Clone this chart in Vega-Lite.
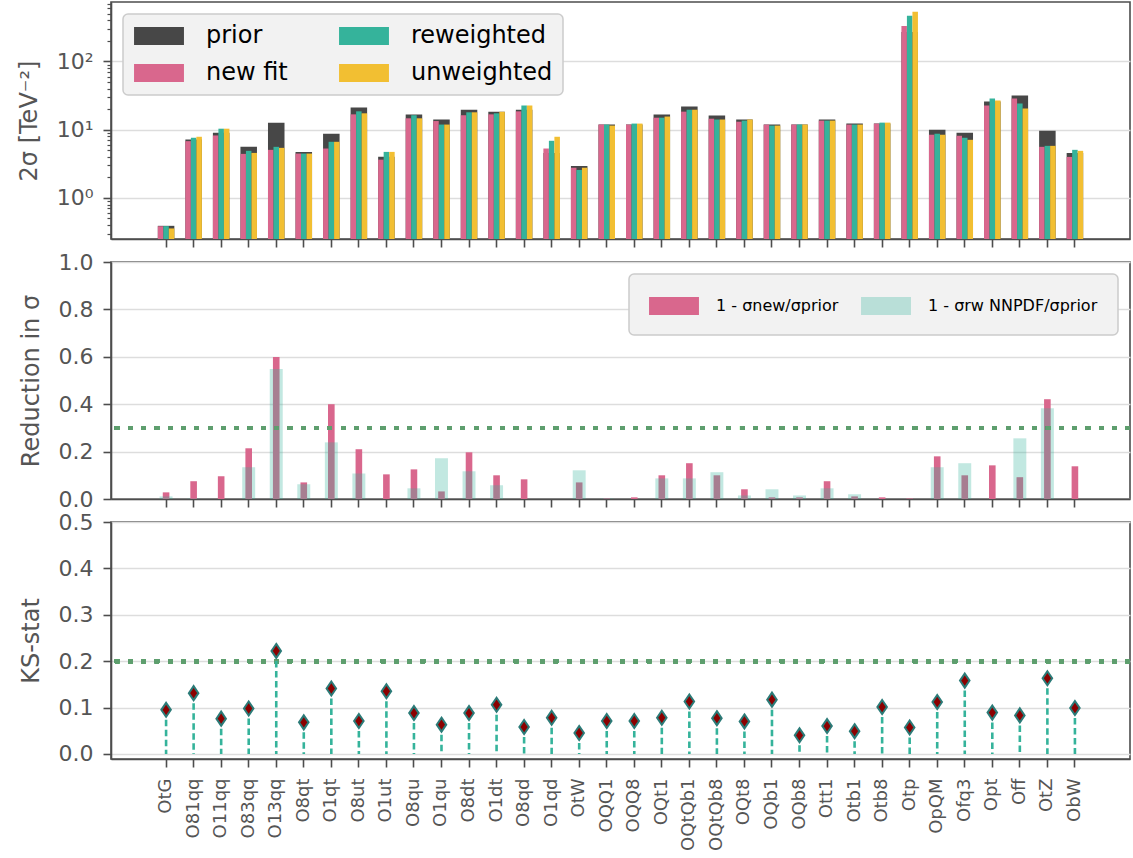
{
  "$schema": "https://vega.github.io/schema/vega-lite/v6.json",
  "autosize": {"type": "pad"},
  "padding": {"left": 16, "top": 1, "right": 1, "bottom": 0},
  "background": "white",
  "config": {
    "font": "DejaVu Sans",
    "view": {"stroke": "#4d4d4d", "strokeWidth": 1.6},
    "axis": {
      "labelFont": "DejaVu Sans", "titleFont": "DejaVu Sans",
      "labelColor": "#555555", "titleColor": "#555555",
      "labelFontSize": 22, "titleFontSize": 24, "titleFontWeight": "normal",
      "domainColor": "#4d4d4d", "domainWidth": 1.6,
      "tickColor": "#4d4d4d", "tickWidth": 1.6, "tickSize": 8,
      "labelPadding": 10, "titlePadding": 15,
      "gridColor": "#dddddd", "gridWidth": 1.5
    },
    "legend": {
      "labelFont": "DejaVu Sans", "labelColor": "#000000",
      "fillColor": "#f2f2f2", "strokeColor": "#cccccc", "strokeWidth": 1.5,
      "cornerRadius": 5, "padding": 10, "title": null, "labelLimit": 400
    }
  },
  "datasets": {
    "d": [
      {"op": "OtG", "prior": 0.39, "new fit": 0.386, "reweighted": 0.386, "unweighted": 0.357, "rnew": 0.028, "rrw": 0.011, "ks": 0.095},
      {"op": "O81qq", "prior": 7.19, "new fit": 6.8, "reweighted": 7.62, "unweighted": 7.88, "rnew": 0.075, "rrw": 0.002, "ks": 0.131},
      {"op": "O11qq", "prior": 9.03, "new fit": 8.24, "reweighted": 10.35, "unweighted": 10.35, "rnew": 0.096, "rrw": 0.0, "ks": 0.076},
      {"op": "O83qq", "prior": 5.61, "new fit": 4.42, "reweighted": 4.9, "unweighted": 4.57, "rnew": 0.214, "rrw": 0.134, "ks": 0.098},
      {"op": "O13qq", "prior": 12.7, "new fit": 5.07, "reweighted": 5.61, "unweighted": 5.42, "rnew": 0.599, "rrw": 0.548, "ks": 0.222},
      {"op": "O8qt", "prior": 4.73, "new fit": 4.47, "reweighted": 4.47, "unweighted": 4.47, "rnew": 0.07, "rrw": 0.062, "ks": 0.068},
      {"op": "O1qt", "prior": 8.73, "new fit": 5.3, "reweighted": 6.65, "unweighted": 6.65, "rnew": 0.4, "rrw": 0.239, "ks": 0.141},
      {"op": "O8ut", "prior": 21.1, "new fit": 16.8, "reweighted": 18.6, "unweighted": 17.4, "rnew": 0.21, "rrw": 0.108, "ks": 0.071},
      {"op": "O1ut", "prior": 4.03, "new fit": 3.64, "reweighted": 4.73, "unweighted": 4.73, "rnew": 0.104, "rrw": 0.0, "ks": 0.135},
      {"op": "O8qu", "prior": 16.7, "new fit": 14.7, "reweighted": 16.3, "unweighted": 14.7, "rnew": 0.125, "rrw": 0.045, "ks": 0.088},
      {"op": "O1qu", "prior": 14.1, "new fit": 13.4, "reweighted": 11.9, "unweighted": 11.9, "rnew": 0.032, "rrw": 0.172, "ks": 0.063},
      {"op": "O8dt", "prior": 19.7, "new fit": 16.3, "reweighted": 18.0, "unweighted": 18.0, "rnew": 0.197, "rrw": 0.117, "ks": 0.088},
      {"op": "O1dt", "prior": 18.4, "new fit": 16.8, "reweighted": 17.4, "unweighted": 18.3, "rnew": 0.1, "rrw": 0.058, "ks": 0.106},
      {"op": "O8qd", "prior": 19.7, "new fit": 18.6, "reweighted": 22.6, "unweighted": 22.6, "rnew": 0.083, "rrw": 0.0, "ks": 0.058},
      {"op": "O1qd", "prior": 4.57, "new fit": 5.3, "reweighted": 6.88, "unweighted": 7.88, "rnew": 0.0, "rrw": 0.0, "ks": 0.078},
      {"op": "OtW", "prior": 2.94, "new fit": 2.77, "reweighted": 2.57, "unweighted": 2.77, "rnew": 0.07, "rrw": 0.121, "ks": 0.045},
      {"op": "OQQ1", "prior": 11.9, "new fit": 11.9, "reweighted": 11.9, "unweighted": 11.5, "rnew": 0.002, "rrw": 0.002, "ks": 0.071},
      {"op": "OQQ8", "prior": 11.9, "new fit": 11.9, "reweighted": 12.3, "unweighted": 12.3, "rnew": 0.007, "rrw": 0.0, "ks": 0.071},
      {"op": "OQt1", "prior": 16.7, "new fit": 15.0, "reweighted": 15.0, "unweighted": 15.6, "rnew": 0.1, "rrw": 0.087, "ks": 0.078},
      {"op": "OQtQb1", "prior": 21.9, "new fit": 18.4, "reweighted": 19.7, "unweighted": 19.7, "rnew": 0.151, "rrw": 0.087, "ks": 0.113},
      {"op": "OQtQb8", "prior": 16.1, "new fit": 14.5, "reweighted": 14.1, "unweighted": 14.1, "rnew": 0.1, "rrw": 0.113, "ks": 0.077},
      {"op": "OQt8", "prior": 14.1, "new fit": 13.1, "reweighted": 13.6, "unweighted": 14.1, "rnew": 0.041, "rrw": 0.015, "ks": 0.07},
      {"op": "OQb1", "prior": 11.9, "new fit": 11.9, "reweighted": 11.5, "unweighted": 11.5, "rnew": 0.007, "rrw": 0.041, "ks": 0.117},
      {"op": "OQb8", "prior": 11.9, "new fit": 11.9, "reweighted": 11.9, "unweighted": 11.9, "rnew": 0.007, "rrw": 0.015, "ks": 0.04},
      {"op": "Ott1", "prior": 14.1, "new fit": 13.6, "reweighted": 13.6, "unweighted": 13.6, "rnew": 0.075, "rrw": 0.045, "ks": 0.06},
      {"op": "Otb1", "prior": 12.3, "new fit": 11.9, "reweighted": 11.9, "unweighted": 11.9, "rnew": 0.011, "rrw": 0.02, "ks": 0.049},
      {"op": "Otb8", "prior": 12.3, "new fit": 12.3, "reweighted": 12.7, "unweighted": 12.7, "rnew": 0.007, "rrw": 0.0, "ks": 0.101},
      {"op": "Otp", "prior": 271, "new fit": 332, "reweighted": 467, "unweighted": 535, "rnew": 0.002, "rrw": 0.0, "ks": 0.057},
      {"op": "OpQM", "prior": 10.0, "new fit": 8.44, "reweighted": 8.73, "unweighted": 8.44, "rnew": 0.18, "rrw": 0.134, "ks": 0.112},
      {"op": "Ofq3", "prior": 9.03, "new fit": 8.15, "reweighted": 7.62, "unweighted": 7.11, "rnew": 0.1, "rrw": 0.151, "ks": 0.158},
      {"op": "Opt", "prior": 25.9, "new fit": 22.6, "reweighted": 28.7, "unweighted": 26.8, "rnew": 0.142, "rrw": 0.0, "ks": 0.089},
      {"op": "Off", "prior": 31.8, "new fit": 28.7, "reweighted": 24.2, "unweighted": 20.4, "rnew": 0.092, "rrw": 0.256, "ks": 0.083},
      {"op": "OtZ", "prior": 9.67, "new fit": 5.61, "reweighted": 5.8, "unweighted": 5.8, "rnew": 0.421, "rrw": 0.383, "ks": 0.163},
      {"op": "ObW", "prior": 4.57, "new fit": 3.99, "reweighted": 5.07, "unweighted": 4.9, "rnew": 0.138, "rrw": 0.0, "ks": 0.099}
    ]
  },
  "spacing": 23,
  "bounds": "flush",
  "resolve": {"scale": {"color": "independent"}, "legend": {"color": "independent"}},
  "vconcat": [
    {
      "width": 1019, "height": 237,
      "data": {"name": "d"},
      "layer": [
        {
          "transform": [{"fold": ["prior"], "as": ["series", "val"]}],
          "mark": {"type": "bar", "width": {"band": 0.6}},
          "encoding": {
            "x": {"field": "op", "type": "nominal",
                  "scale": {"domain": [" ", "OtG", "O81qq", "O11qq", "O83qq", "O13qq", "O8qt", "O1qt", "O8ut", "O1ut", "O8qu", "O1qu", "O8dt", "O1dt", "O8qd", "O1qd", "OtW", "OQQ1", "OQQ8", "OQt1", "OQtQb1", "OQtQb8", "OQt8", "OQb1", "OQb8", "Ott1", "Otb1", "Otb8", "Otp", "OpQM", "Ofq3", "Opt", "Off", "OtZ", "ObW", "  "],
                            "paddingInner": 0, "paddingOuter": 0.5},
                  "axis": {"values": ["OtG", "O81qq", "O11qq", "O83qq", "O13qq", "O8qt", "O1qt", "O8ut", "O1ut", "O8qu", "O1qu", "O8dt", "O1dt", "O8qd", "O1qd", "OtW", "OQQ1", "OQQ8", "OQt1", "OQtQb1", "OQtQb8", "OQt8", "OQb1", "OQb8", "Ott1", "Otb1", "Otb8", "Otp", "OpQM", "Ofq3", "Opt", "Off", "OtZ", "ObW"],
                           "labels": false, "title": null, "grid": false}},
            "y": {"field": "val", "type": "quantitative", "stack": null,
                  "scale": {"type": "log", "domain": [0.25, 745], "nice": false},
                  "axis": {"values": [1, 10, 100], "grid": true, "title": "2σ [TeV⁻²]",
                           "labelExpr": "datum.value == 1 ? '10⁰' : (datum.value == 10 ? '10¹' : '10²')"}},
            "y2": {"datum": 0.25},
            "color": {"field": "series", "type": "nominal",
                      "scale": {"domain": ["prior", "new fit", "reweighted", "unweighted"],
                                "range": ["#474747", "#d9678d", "#35b39b", "#f2bf32"]},
                      "legend": {"orient": "top-left", "offset": 12, "columns": 2,
                                 "symbolType": "M-2.08,-0.75H2.08V0.75H-2.08Z", "symbolSize": 576,
                                 "symbolStrokeWidth": 0, "symbolOpacity": 1,
                                 "labelFontSize": 24, "symbolOffset": 14, "labelOffset": 35,
                                 "rowPadding": 13, "columnPadding": 50}}
          }
        },
        {
          "transform": [{"fold": ["new fit", "reweighted", "unweighted"], "as": ["series", "val"]}],
          "mark": {"type": "bar"},
          "encoding": {
            "x": {"field": "op", "type": "nominal"},
            "xOffset": {"field": "series", "type": "nominal", "sort": ["new fit", "reweighted", "unweighted"],
                        "scale": {"paddingInner": 0, "paddingOuter": 1}},
            "y": {"field": "val", "type": "quantitative", "stack": null,
                  "axis": {"orient": "left", "values": [0.3, 0.4, 0.5, 0.6, 0.7, 0.8, 0.9, 2, 3, 4, 5, 6, 7, 8, 9, 20, 30, 40, 50, 60, 70, 80, 90, 200, 300, 400, 500, 600, 700],
                           "labels": false, "grid": false, "domain": false, "title": null, "tickSize": 4, "tickWidth": 1.2}},
            "y2": {"datum": 0.25},
            "color": {"field": "series", "type": "nominal"}
          }
        }
      ],
      "resolve": {"axis": {"y": "independent"}}
    },
    {
      "width": 1019, "height": 237,
      "data": {"name": "d"},
      "layer": [
        {
          "transform": [{"fold": ["rnew"], "as": ["k", "v"]}],
          "mark": {"type": "bar", "width": {"band": 0.24}},
          "encoding": {
            "x": {"field": "op", "type": "nominal",
                  "scale": {"domain": [" ", "OtG", "O81qq", "O11qq", "O83qq", "O13qq", "O8qt", "O1qt", "O8ut", "O1ut", "O8qu", "O1qu", "O8dt", "O1dt", "O8qd", "O1qd", "OtW", "OQQ1", "OQQ8", "OQt1", "OQtQb1", "OQtQb8", "OQt8", "OQb1", "OQb8", "Ott1", "Otb1", "Otb8", "Otp", "OpQM", "Ofq3", "Opt", "Off", "OtZ", "ObW", "  "],
                            "paddingInner": 0, "paddingOuter": 0.5},
                  "axis": {"values": ["OtG", "O81qq", "O11qq", "O83qq", "O13qq", "O8qt", "O1qt", "O8ut", "O1ut", "O8qu", "O1qu", "O8dt", "O1dt", "O8qd", "O1qd", "OtW", "OQQ1", "OQQ8", "OQt1", "OQtQb1", "OQtQb8", "OQt8", "OQb1", "OQb8", "Ott1", "Otb1", "Otb8", "Otp", "OpQM", "Ofq3", "Opt", "Off", "OtZ", "ObW"],
                           "labels": false, "title": null, "grid": false}},
            "y": {"field": "v", "type": "quantitative",
                  "scale": {"domain": [0, 1], "nice": false},
                  "axis": {"values": [0, 0.2, 0.4, 0.6, 0.8, 1.0], "format": ".1f", "title": "Reduction in σ", "grid": true}},
            "color": {"field": "k", "type": "nominal",
                      "scale": {"domain": ["rnew", "rrw"], "range": ["#d9678d", "rgba(53,179,155,0.3)"]},
                      "legend": {"orient": "top-right", "offset": 12, "direction": "horizontal", "columns": 2,
                                 "symbolType": "M-2.08,-0.75H2.08V0.75H-2.08Z", "symbolSize": 576,
                                 "symbolStrokeWidth": 0, "symbolOpacity": 1,
                                 "labelFontSize": 16, "symbolOffset": 13, "labelOffset": 30,
                                 "columnPadding": 22, "padding": 20,
                                 "labelExpr": "datum.label == 'rnew' ? '1 - σnew/σprior' : '1 - σrw NNPDF/σprior'"}}
          }
        },
        {
          "transform": [{"fold": ["rrw"], "as": ["k", "v"]}],
          "mark": {"type": "bar", "width": {"band": 0.47}},
          "encoding": {
            "x": {"field": "op", "type": "nominal"},
            "y": {"field": "v", "type": "quantitative"},
            "color": {"field": "k", "type": "nominal"}
          }
        },
        {
          "mark": {"type": "rule", "color": "#5e9e6e", "strokeWidth": 4, "strokeDash": [4.3, 9]},
          "encoding": {"y": {"datum": 0.3}}
        }
      ]
    },
    {
      "width": 1019, "height": 237,
      "data": {"name": "d"},
      "layer": [
        {
          "mark": {"type": "rule", "color": "#5e9e6e", "strokeWidth": 4, "strokeDash": [4.3, 9]},
          "encoding": {"y": {"datum": 0.2}}
        },
        {
          "mark": {"type": "rule", "color": "#35b39b", "strokeWidth": 2.6, "strokeDash": [6.5, 3.5]},
          "encoding": {
            "x": {"field": "op", "type": "nominal",
                  "scale": {"domain": [" ", "OtG", "O81qq", "O11qq", "O83qq", "O13qq", "O8qt", "O1qt", "O8ut", "O1ut", "O8qu", "O1qu", "O8dt", "O1dt", "O8qd", "O1qd", "OtW", "OQQ1", "OQQ8", "OQt1", "OQtQb1", "OQtQb8", "OQt8", "OQb1", "OQb8", "Ott1", "Otb1", "Otb8", "Otp", "OpQM", "Ofq3", "Opt", "Off", "OtZ", "ObW", "  "],
                            "paddingInner": 0, "paddingOuter": 0.5},
                  "axis": {"values": ["OtG", "O81qq", "O11qq", "O83qq", "O13qq", "O8qt", "O1qt", "O8ut", "O1ut", "O8qu", "O1qu", "O8dt", "O1dt", "O8qd", "O1qd", "OtW", "OQQ1", "OQQ8", "OQt1", "OQtQb1", "OQtQb8", "OQt8", "OQb1", "OQb8", "Ott1", "Otb1", "Otb8", "Otp", "OpQM", "Ofq3", "Opt", "Off", "OtZ", "ObW"],
                           "labelAngle": -90, "labelFontSize": 18, "title": null, "grid": false, "labelPadding": 11}},
            "y": {"field": "ks", "type": "quantitative",
                  "scale": {"domain": [-0.011, 0.5], "nice": false},
                  "axis": {"values": [0, 0.1, 0.2, 0.3, 0.4, 0.5], "format": ".1f", "title": "KS-stat", "grid": true}},
            "y2": {"datum": 0}
          }
        },
        {
          "mark": {"type": "point", "shape": "M0,-1L0.68,0L0,1L-0.68,0Z", "filled": true, "size": 196,
                   "fill": "#8b0000", "stroke": "#2b7b78", "strokeWidth": 2, "opacity": 1},
          "encoding": {
            "x": {"field": "op", "type": "nominal"},
            "y": {"field": "ks", "type": "quantitative"}
          }
        }
      ]
    }
  ]
}
